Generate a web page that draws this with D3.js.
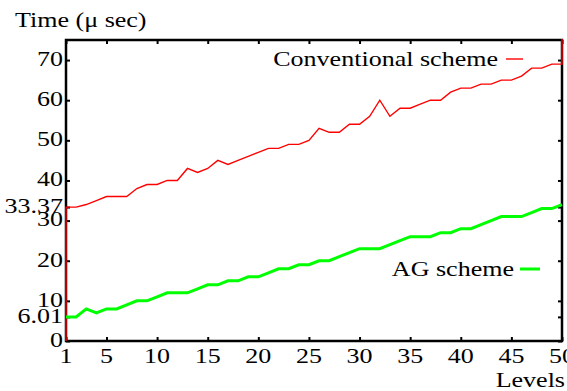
<!DOCTYPE html>
<html>
<head>
<meta charset="utf-8">
<script src="https://cdn.jsdelivr.net/npm/d3@7"></script>
<style>
  html, body { margin: 0; padding: 0; background: #fff; }
  svg { display: block; }
</style>
</head>
<body>
<svg id="chart" width="567" height="391"></svg>
<script>
// ---- data ----
const levels = d3.range(1, 51);
const conventional = [33.37, 33.37, 34, 35, 36, 36, 36, 38, 39, 39,
                      40, 40, 43, 42, 43, 45, 44, 45, 46, 47,
                      48, 48, 49, 49, 50, 53, 52, 52, 54, 54,
                      56, 60, 56, 58, 58, 59, 60, 60, 62, 63,
                      63, 64, 64, 65, 65, 66, 68, 68, 69, 69];
const agScheme = [6.01, 6, 8, 7, 8, 8, 9, 10, 10, 11,
                  12, 12, 12, 13, 14, 14, 15, 15, 16, 16,
                  17, 18, 18, 19, 19, 20, 20, 21, 22, 23,
                  23, 23, 24, 25, 26, 26, 26, 27, 27, 28,
                  28, 29, 30, 31, 31, 31, 32, 33, 33, 34];
const xTickLabels = [1, 5, 10, 15, 20, 25, 30, 35, 40, 45, 50];
const yTickLabels = [0, 10, 20, 30, 40, 50, 60, 70];
const yExtraTicks = [6.01, 33.37];
const seriesNames = ["Conventional scheme", "AG scheme"];
const seriesColors = ["#ff0000", "#00ff00"];

// ---- layout ----
const L = 66, R = 562, T = 40, B = 341;
const SX = 1.24, FS = 21;
const svg = d3.select("#chart");
const x = d3.scaleLinear().domain([1, 50]).range([L, R]);
const y = d3.scaleLinear().domain([0, 75]).range([B, T]);

function label(g, px, py, txt, anchor, baseline) {
  g.append("g").attr("transform", `translate(${px},${py}) scale(${SX},1)`)
    .append("text")
    .attr("font-family", "'Liberation Serif', 'Times New Roman', serif")
    .attr("font-size", FS)
    .attr("fill", "#000")
    .attr("text-anchor", anchor)
    .attr("dominant-baseline", baseline || "auto")
    .text(txt);
}

svg.append("defs").append("clipPath").attr("id", "clip")
  .append("rect").attr("x", L - 2).attr("y", T - 1).attr("width", R - L + 4).attr("height", B - T + 2);

// axes (tick marks inward, mirrored)
const tl = 4;
const allY = yTickLabels.concat(yExtraTicks);
const axL = d3.axisRight(y).tickValues(allY).tickSize(tl).tickFormat("");
const axR = d3.axisLeft(y).tickValues(allY).tickSize(tl).tickFormat("");
const axB = d3.axisTop(x).tickValues(xTickLabels).tickSize(tl).tickFormat("");
const axT = d3.axisBottom(x).tickValues(xTickLabels).tickSize(tl).tickFormat("");
[[axL, `translate(${L},0)`], [axR, `translate(${R},0)`], [axB, `translate(0,${B})`], [axT, `translate(0,${T})`]]
  .forEach(([ax, tr]) => {
    const g = svg.append("g").attr("transform", tr).call(ax);
    g.select(".domain").remove();
    g.selectAll(".tick line").attr("stroke", "#000").attr("stroke-width", 2);
  });
svg.append("rect").attr("x", L).attr("y", T).attr("width", R - L).attr("height", B - T)
  .attr("fill", "none").attr("stroke", "#000").attr("stroke-width", 2.5);

// tick labels
const gl = svg.append("g");
allY.forEach(v => label(gl, L - 3, y(v) + 1, String(v), "end", "middle"));
xTickLabels.forEach(v => label(gl, x(v), B + 22, String(v), "middle"));
label(gl, 15, 27, "Time (\u03bc sec)", "start");
label(gl, 565, 387, "Levels", "end");

// series lines
const line = d3.line().x(d => x(d[0])).y(d => y(d[1]));
const convPts = [[1, 0]].concat(levels.map((l, i) => [l, conventional[i]]), [[50, y.domain()[1] + 1]]);
const agPts = levels.map((l, i) => [l, agScheme[i]]);
const gp = svg.append("g").attr("clip-path", "url(#clip)");
gp.append("path").datum(convPts).attr("d", line).attr("fill", "none")
  .attr("stroke", seriesColors[0]).attr("stroke-width", 1.4).attr("stroke-linejoin", "miter");
gp.append("path").datum(agPts).attr("d", line).attr("fill", "none")
  .attr("stroke", seriesColors[1]).attr("stroke-width", 3).attr("stroke-linejoin", "miter");

// legend
label(gl, 498, 66, seriesNames[0], "end");
svg.append("line").attr("x1", 506).attr("x2", 523).attr("y1", 59).attr("y2", 59)
  .attr("stroke", seriesColors[0]).attr("stroke-width", 1.4);
label(gl, 514, 276, seriesNames[1], "end");
svg.append("line").attr("x1", 520).attr("x2", 540).attr("y1", 269).attr("y2", 269)
  .attr("stroke", seriesColors[1]).attr("stroke-width", 3);
</script>
</body>
</html>
